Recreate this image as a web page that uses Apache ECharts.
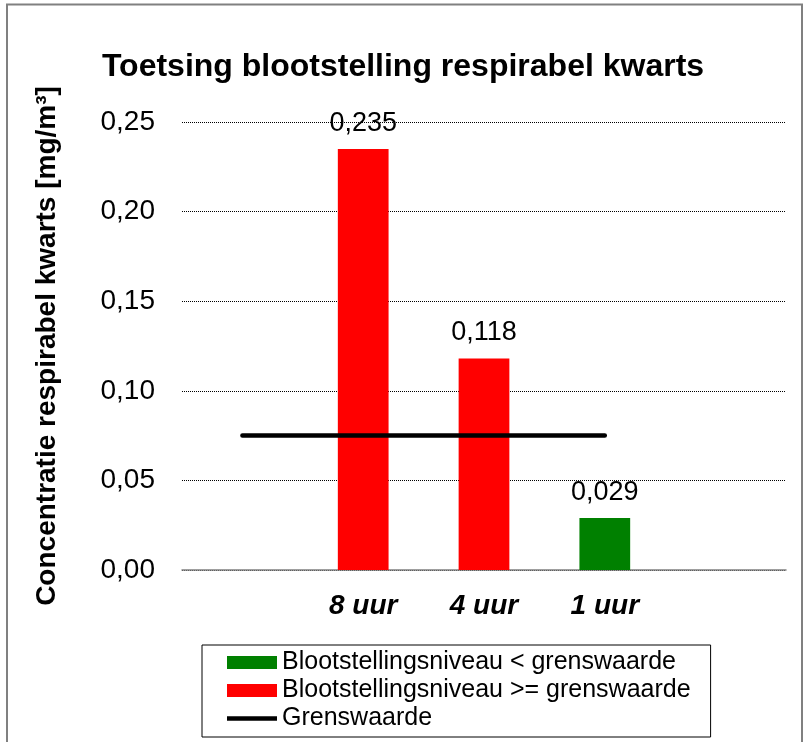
<!DOCTYPE html>
<html>
<head>
<meta charset="utf-8">
<script src="https://cdn.jsdelivr.net/npm/echarts@6/dist/echarts.min.js"></script>
<style>
  html, body { margin: 0; padding: 0; background: #fff; }
  #main { width: 806px; height: 742px; }
</style>
</head>
<body>
<div id="main"></div>
<script>
// data
var categories = ['', '8 uur', '4 uur', '1 uur', ''];
var onderGrens = [null, 0, 0, 0.029, null];      // Blootstellingsniveau < grenswaarde
var bovenGrens = [null, 0.235, 0.118, 0, null];  // Blootstellingsniveau >= grenswaarde
var grenswaarde = [0.075, 0.075, 0.075, 0.075, null];

var font = 'Liberation Sans, Arial, sans-serif';

function komma(v, d) {
    return v.toFixed(d).replace('.', ',');
}

var barLabel = {
    show: true,
    position: 'top',
    distance: 12,
    color: '#000',
    fontFamily: font,
    fontSize: 27,
    formatter: function (p) {
        return p.value ? komma(p.value, 3) : '';
    }
};

var myChart = echarts.init(document.getElementById('main'));
myChart.setOption({
    backgroundColor: '#fff',
    animation: false,
    textStyle: { fontFamily: font },
    // rand om de grafiek
    graphic: [{
        type: 'rect',
        shape: { x: 7, y: 4.5, width: 795, height: 760 },
        style: { fill: 'none', stroke: '#808080', lineWidth: 2 }
    }],
    title: {
        text: 'Toetsing blootstelling respirabel kwarts',
        left: 'center',
        top: 46,
        textStyle: { color: '#000', fontSize: 32, fontWeight: 'bold', fontFamily: font }
    },
    grid: { left: 182, right: 20, top: 122, bottom: 172 },
    legend: {
        orient: 'vertical',
        left: 202,
        top: 645,
        padding: [5, 20, 6, 25],
        borderColor: '#000',
        borderWidth: 1,
        itemWidth: 50,
        itemHeight: 13,
        itemGap: 3,
        textStyle: { color: '#000', fontSize: 25, fontFamily: font },
        data: [
            { name: 'Blootstellingsniveau < grenswaarde', icon: 'rect' },
            { name: 'Blootstellingsniveau >= grenswaarde', icon: 'rect' },
            { name: 'Grenswaarde', icon: 'path://M0,0H100V9H0Z' }
        ]
    },
    xAxis: {
        type: 'category',
        data: categories,
        axisLine: { lineStyle: { color: '#808080', width: 1.5 } },
        axisTick: { show: false },
        axisLabel: {
            color: '#000', fontSize: 28, fontWeight: 'bold', fontStyle: 'italic',
            fontFamily: font, margin: 22
        }
    },
    yAxis: {
        type: 'value',
        min: 0,
        max: 0.25,
        interval: 0.05,
        name: 'Concentratie respirabel kwarts [mg/m³]',
        nameLocation: 'middle',
        nameRotate: 90,
        nameGap: 121,
        nameTextStyle: { color: '#000', fontSize: 28, fontWeight: 'bold', fontFamily: font },
        axisLine: { show: false },
        axisTick: { show: false },
        axisLabel: {
            color: '#000', fontSize: 28, fontFamily: font, margin: 27,
            formatter: function (v) { return komma(v, 2); }
        },
        splitLine: { lineStyle: { color: '#000', type: [1, 1], width: 1 } }
    },
    series: [
        {
            name: 'Blootstellingsniveau < grenswaarde',
            type: 'bar',
            data: onderGrens,
            barWidth: '42%',
            barGap: '-100%',
            itemStyle: { color: '#008000' },
            label: barLabel,
            z: 2
        },
        {
            name: 'Blootstellingsniveau >= grenswaarde',
            type: 'bar',
            data: bovenGrens,
            barWidth: '42%',
            itemStyle: { color: '#ff0000' },
            label: barLabel,
            z: 2
        },
        {
            name: 'Grenswaarde',
            type: 'line',
            data: grenswaarde,
            symbol: 'none',
            connectNulls: false,
            lineStyle: { color: '#000', width: 4.5, cap: 'round' },
            itemStyle: { color: '#000' },
            z: 5
        }
    ]
});
</script>
</body>
</html>
